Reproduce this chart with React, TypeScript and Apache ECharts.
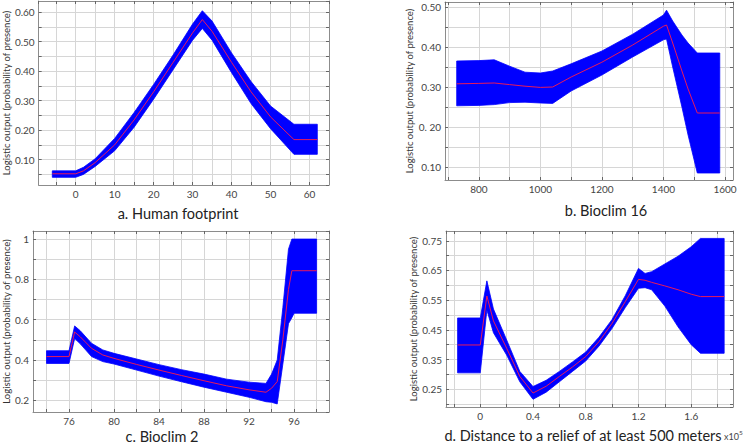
import React, { useEffect, useRef } from "react";
import * as echarts from "echarts";

// ---------- Data ----------
// a. Human footprint
const aX = [-6, 0, 2, 5, 10, 15, 20, 25, 30, 32.5, 35, 40, 45, 50, 56, 62];
const aMean = [0.052, 0.052, 0.062, 0.09, 0.15, 0.235, 0.33, 0.43, 0.53, 0.575, 0.535, 0.43, 0.33, 0.245, 0.168, 0.168];
const aLow = [0.04, 0.04, 0.05, 0.077, 0.13, 0.21, 0.305, 0.405, 0.505, 0.545, 0.505, 0.395, 0.29, 0.205, 0.118, 0.118];
const aUp = [0.062, 0.062, 0.074, 0.103, 0.172, 0.26, 0.355, 0.455, 0.56, 0.605, 0.57, 0.462, 0.365, 0.282, 0.22, 0.22];

// b. Bioclim 16
const bX = [728, 800, 850, 900, 950, 1000, 1040, 1100, 1200, 1300, 1400, 1410, 1430, 1460, 1480, 1510, 1583];
const bMean = [0.308, 0.309, 0.31, 0.306, 0.302, 0.299, 0.3, 0.325, 0.362, 0.405, 0.452, 0.455, 0.41, 0.34, 0.295, 0.235, 0.235];
const bLow = [0.253, 0.254, 0.256, 0.261, 0.262, 0.26, 0.259, 0.29, 0.33, 0.375, 0.418, 0.42, 0.35, 0.25, 0.18, 0.085, 0.085];
const bUp = [0.365, 0.366, 0.368, 0.352, 0.337, 0.335, 0.34, 0.358, 0.39, 0.432, 0.48, 0.492, 0.465, 0.43, 0.41, 0.385, 0.385];

// c. Bioclim 2
const cX = [74, 76, 76.5, 77, 78, 79, 80, 82, 84, 86, 88, 90, 92, 93.5, 94, 94.5, 95, 95.5, 95.8, 96, 98];
const cMean = [0.417, 0.417, 0.539, 0.515, 0.458, 0.425, 0.408, 0.378, 0.35, 0.323, 0.297, 0.272, 0.252, 0.24, 0.26, 0.293, 0.5, 0.75, 0.843, 0.843, 0.843];
const cLow = [0.383, 0.383, 0.507, 0.48, 0.417, 0.392, 0.38, 0.35, 0.32, 0.292, 0.265, 0.24, 0.215, 0.193, 0.19, 0.182, 0.38, 0.58, 0.61, 0.632, 0.632];
const cUp = [0.446, 0.446, 0.569, 0.545, 0.483, 0.45, 0.433, 0.405, 0.377, 0.352, 0.33, 0.305, 0.29, 0.284, 0.33, 0.4, 0.66, 0.95, 1.0, 1.0, 1.0];

// d. Distance to a relief of at least 500 meters (x in units of 10^5)
const dX = [-0.172, 0, 0.05, 0.1, 0.2, 0.3, 0.4, 0.5, 0.6, 0.7, 0.8, 0.9, 1.0, 1.1, 1.2, 1.25, 1.3, 1.4, 1.5, 1.6, 1.67, 1.85];
const dMean = [0.399, 0.399, 0.564, 0.48, 0.388, 0.293, 0.237, 0.26, 0.293, 0.325, 0.36, 0.41, 0.472, 0.545, 0.62, 0.617, 0.61, 0.598, 0.585, 0.57, 0.562, 0.562];
const dLow = [0.305, 0.305, 0.517, 0.44, 0.365, 0.275, 0.216, 0.24, 0.275, 0.31, 0.345, 0.395, 0.455, 0.525, 0.59, 0.592, 0.585, 0.53, 0.46, 0.4, 0.371, 0.371];
const dUp = [0.49, 0.49, 0.615, 0.52, 0.416, 0.31, 0.259, 0.28, 0.31, 0.342, 0.375, 0.425, 0.485, 0.565, 0.657, 0.64, 0.646, 0.672, 0.698, 0.73, 0.758, 0.758];

const aXTicks = [0, 10, 20, 30, 40, 50, 60];
const aYTicks = [0.1, 0.2, 0.3, 0.4, 0.5, 0.6];
const bXTicks = [800, 1000, 1200, 1400, 1600];
const bYTicks = [0.1, 0.2, 0.3, 0.4, 0.5];
const cXTicks = [76, 80, 84, 88, 92, 96];
const cYTicks = [0.2, 0.4, 0.6, 0.8, 1];
const dXTicks = [0, 0.4, 0.8, 1.2, 1.6];
const dYTicks = [0.25, 0.35, 0.45, 0.55, 0.65, 0.75];

const Y_NAME = "Logistic output (probability of presence)";
const FONT = "Lato";
const BLUE = "#0000ff";
const RED = "#e8195a";

type Panel = {
  grid: { left: number; top: number; width: number; height: number };
  xMin: number; xMax: number; yMin: number; yMax: number;
  xSplit: number; ySplit: number;
  xTicks: number[]; yTicks: number[];
  xFmt: (v: number) => string; yFmt: (v: number) => string;
  x: number[]; mean: number[]; low: number[]; up: number[];
  title: string; tx: number; ty: number;
};

const near = (v: number, list: number[]) => list.find((t) => Math.abs(t - v) < 1e-6);

const panels: Panel[] = [
  {
    grid: { left: 32, top: 1, width: 297, height: 184 },
    xMin: -9.5, xMax: 65, yMin: 0.014, yMax: 0.638, xSplit: 15, ySplit: 12,
    xTicks: aXTicks, yTicks: aYTicks,
    xFmt: (v) => String(v), yFmt: (v) => v.toFixed(2),
    x: aX, mean: aMean, low: aLow, up: aUp,
    title: "a. Human footprint", tx: 178, ty: 213,
  },
  {
    grid: { left: 445, top: 2, width: 288, height: 178 },
    xMin: 690, xMax: 1626, yMin: 0.0675, yMax: 0.5125, xSplit: 9, ySplit: 9,
    xTicks: bXTicks, yTicks: bYTicks,
    xFmt: (v) => String(v), yFmt: (v) => (Math.abs(v - 0.2) < 1e-6 ? "0. 20" : v.toFixed(2)),
    x: bX, mean: bMean, low: bLow, up: bUp,
    title: "b. Bioclim 16", tx: 606, ty: 210,
  },
  {
    grid: { left: 33, top: 231, width: 296, height: 181 },
    xMin: 72.8, xMax: 99.1, yMin: 0.142, yMax: 1.04, xSplit: 13, ySplit: 9,
    xTicks: cXTicks, yTicks: cYTicks,
    xFmt: (v) => String(v), yFmt: (v) => String(Math.round(v * 10) / 10),
    x: cX, mean: cMean, low: cLow, up: cUp,
    title: "c. Bioclim 2", tx: 162, ty: 436,
  },
  {
    grid: { left: 446, top: 231, width: 287, height: 176 },
    xMin: -0.26, xMax: 1.917, yMin: 0.19, yMax: 0.783, xSplit: 11, ySplit: 12,
    xTicks: dXTicks, yTicks: dYTicks,
    xFmt: (v) => String(Math.round(v * 10) / 10), yFmt: (v) => v.toFixed(2),
    x: dX, mean: dMean, low: dLow, up: dUp,
    title: "d. Distance to a relief of at least 500 meters", tx: 583, ty: 435,
  },
];

function buildOption() {
  const grid: any[] = [];
  const xAxis: any[] = [];
  const yAxis: any[] = [];
  const series: any[] = [];
  const graphic: any[] = [];
  const axisLine = { show: true, onZero: false, lineStyle: { color: "#8c8c8c", width: 1 } };
  const tick = { show: true, inside: true, length: 3, lineStyle: { color: "#666" } };
  panels.forEach((p, i) => {
    grid.push({ ...p.grid, containLabel: false });
    const baseX = { type: "value", gridIndex: i, min: p.xMin, max: p.xMax, splitNumber: p.xSplit };
    const baseY = { type: "value", gridIndex: i, min: p.yMin, max: p.yMax, splitNumber: p.ySplit };
    xAxis.push({
      ...baseX, position: "bottom", axisLine, axisTick: tick,
      splitLine: { show: true, lineStyle: { color: "#d6d6d6", width: 1 } },
      axisLabel: {
        show: true, showMinLabel: false, showMaxLabel: false, hideOverlap: false,
        color: "#444", fontFamily: FONT, fontSize: 10, margin: 4,
        formatter: (v: number) => (near(v, p.xTicks) !== undefined ? p.xFmt(v) : ""),
      },
    });
    xAxis.push({
      ...baseX, position: "top", axisLine, axisTick: tick,
      splitLine: { show: false }, axisLabel: { show: false },
    });
    yAxis.push({
      ...baseY, position: "left", axisLine, axisTick: tick,
      splitLine: { show: true, lineStyle: { color: "#d6d6d6", width: 1 } },
      name: Y_NAME, nameLocation: "middle", nameGap: i % 2 === 0 ? 22 : 23,
      nameTextStyle: { color: "#333", fontFamily: FONT, fontSize: 9.5 },
      axisLabel: {
        show: true, showMinLabel: false, showMaxLabel: false, hideOverlap: false,
        color: "#444", fontFamily: FONT, fontSize: 10, margin: 4,
        formatter: (v: number) => (near(v, p.yTicks) !== undefined ? p.yFmt(v) : ""),
      },
    });
    yAxis.push({
      ...baseY, position: "right", axisLine, axisTick: tick,
      splitLine: { show: false }, axisLabel: { show: false },
    });
    const xi = i * 2;
    const yi = i * 2;
    // confidence band as one polygon built through the axes' scales
    series.push({
      type: "custom", xAxisIndex: xi, yAxisIndex: yi, silent: true, clip: true,
      data: p.x.map((x, k) => [x, p.low[k], p.up[k]]),
      encode: { x: 0, y: [1, 2] },
      renderItem: (params: any, api: any) => {
        if (params.dataIndex !== 0) return null;
        const pts: number[][] = [];
        for (let k = 0; k < p.x.length; k++) pts.push(api.coord([p.x[k], p.up[k]]));
        for (let k = p.x.length - 1; k >= 0; k--) pts.push(api.coord([p.x[k], p.low[k]]));
        return {
          type: "polygon",
          shape: { points: pts },
          style: { fill: BLUE, stroke: BLUE, lineWidth: 0.8 },
        };
      },
      z: 2,
    });
    series.push({
      type: "line", xAxisIndex: xi, yAxisIndex: yi, symbol: "none", silent: true,
      lineStyle: { width: 1, color: RED },
      data: p.x.map((x, k) => [x, p.mean[k]]),
      z: 5,
    });
    graphic.push({
      type: "text", x: p.tx, y: p.ty,
      style: { text: p.title, fontFamily: FONT, fontSize: 14.5, fill: "#222", textAlign: "center", textVerticalAlign: "middle" },
    });
  });
  graphic.push({
    type: "text", x: 724, y: 436,
    style: { text: "x10", fontFamily: FONT, fontSize: 9, fill: "#444", textAlign: "left", textVerticalAlign: "middle" },
  });
  graphic.push({
    type: "text", x: 739, y: 432,
    style: { text: "5", fontFamily: FONT, fontSize: 6.5, fill: "#444", textAlign: "left", textVerticalAlign: "middle" },
  });
  return { animation: false, backgroundColor: "#ffffff", grid, xAxis, yAxis, series, graphic };
}

export default function App() {
  const ref = useRef<HTMLDivElement>(null);
  useEffect(() => {
    if (!ref.current) return;
    const chart = echarts.init(ref.current, undefined, { renderer: "svg" });
    chart.setOption(buildOption() as any);
    return () => chart.dispose();
  }, []);
  return (
    <div
      ref={ref}
      style={{ position: "fixed", left: 0, top: 0, width: 743, height: 444, background: "#fff" }}
    />
  );
}
